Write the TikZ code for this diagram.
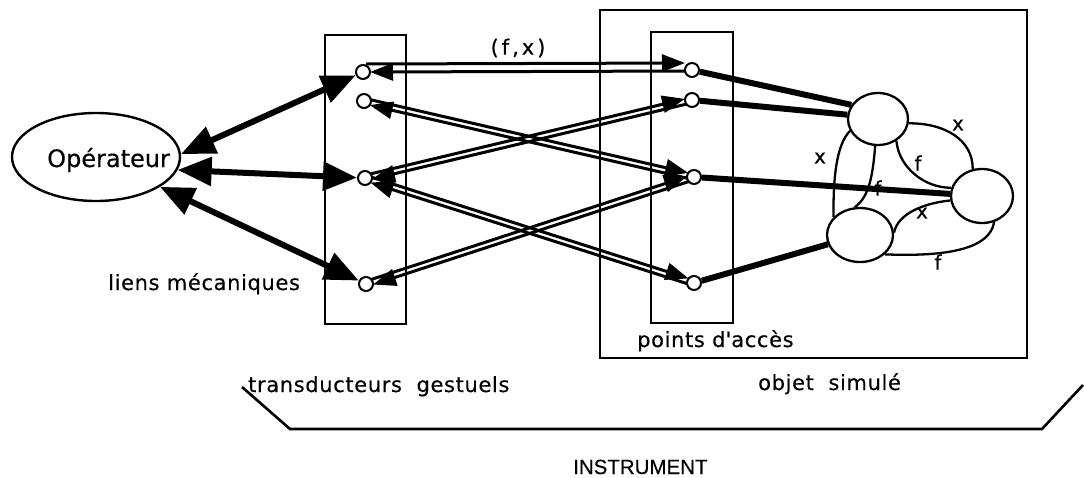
\documentclass[tikz,border=0pt]{standalone}
\usepackage{fontspec}
\setmainfont{DejaVu Sans}[FakeBold=0.3]
\newfontfamily\lblfont{DejaVu Sans}[LetterSpace=3,FakeBold=0.3]
\newfontfamily\helv{Liberation Sans}[FakeBold=0.3]
\usetikzlibrary{arrows.meta,shapes.geometric,calc,backgrounds}

\tikzset{
 accpt/.style={circle,draw,line width=2pt,fill=white,minimum size=14pt,inner sep=0pt},
 mass/.style={ellipse,draw,line width=2.3pt,fill=white,inner sep=0pt},
 frame/.style={draw,line width=2.6pt},
 mech/.style={line width=6pt,{Triangle[length=34pt,width=28pt]}-{Triangle[length=34pt,width=28pt]}},
 sig/.style={line width=3pt,-{Triangle[length=23pt,width=17pt]}},
 model/.style={line width=6pt},
 lnk/.style={line width=2.3pt},
 lbl/.style={inner sep=0pt,font=\lblfont\fontsize{21}{25}\selectfont},
 small/.style={inner sep=0pt,font=\fontsize{20}{24}\selectfont},
}

\newcommand\pairlink[2]{%
 \draw[sig,shorten >=6.5pt] ($(#1)!2.7pt!90:(#2)$) -- ($(#2)!2.7pt!-90:(#1)$);
 \draw[sig,shorten >=6.5pt] ($(#2)!2.7pt!90:(#1)$) -- ($(#1)!2.7pt!-90:(#2)$);
}

\begin{document}
\begin{tikzpicture}[x=1pt,y=-1pt]
\useasboundingbox (0,0) rectangle (1084,477);

% frames
\draw[frame] (325,35) rectangle (406,324);
\draw[frame] (600,10) rectangle (1027,358);
\draw[frame] (651,32) rectangle (733,323);
\draw[frame] (242,387) -- (290,429) -- (1042,429) -- (1083,385);

% operator
\node[mass, minimum width=168pt, minimum height=88pt, line width=2.4pt] (op) at (96,157) {};
\node[inner sep=0pt, anchor=base west, font=\fontsize{24}{28}\selectfont] (opl) at (47,167) {Opérateur};

% transducer points
\node[accpt] (t1) at (363,72) {};
\node[accpt] (t2) at (364,101) {};
\node[accpt] (t3) at (365,178) {};
\node[accpt] (t4) at (366,284) {};
% access points
\node[accpt] (a1) at (692,70) {};
\node[accpt] (a2) at (692,100) {};
\node[accpt] (a3) at (694,177) {};
\node[accpt] (a4) at (694,283) {};
% masses
\node[mass, minimum width=60pt, minimum height=52pt] (m1) at (878,119) {};
\node[mass, minimum width=62pt, minimum height=54pt] (m2) at (982,196) {};
\node[mass, minimum width=66pt, minimum height=54pt] (m3) at (860,235) {};

\begin{scope}[on background layer]
\fill[white] (0,0) rectangle (1084,477);
% mechanical links
\draw[mech] (op.2) -- (t1);
\draw[mech] (op.-9) -- (t3);
\draw[mech] (op.-25) -- (t4);
% signal links
\draw[sig] ($(t1)+(3,-8)$) -- ($(a1)+(-7,-7)$);
\draw[sig] ($(a1)+(0,1)$) -- ($(t1)+(7,0)$);
\pairlink{t2}{a3}
\pairlink{t3}{a2}
\pairlink{t3}{a4}
\pairlink{t4}{a3}
% model links
\draw[model] (a1) -- (m1.152);
\draw[model] (a2) -- (m1.172);
\draw[model] (a3) -- (m2);
\draw[model] (a4) -- (m3);
% interactions
\draw[lnk] (m1.-8) .. controls (945,123) and (973,140) .. (m2.109);
\draw[lnk] (m1.-50) .. controls (899,168) and (925,188) .. (m2.165);
\draw[lnk] (m1.203) .. controls (836,145) and (833,180) .. (m3.146);
\draw[lnk] (m1.-96) .. controls (873,172) and (870,197) .. (m3.101);
\draw[lnk] (m2.188) .. controls (925,203) and (898,213) .. (m3.4);
\draw[lnk] (m2.-65) .. controls (990,248) and (950,257) .. (m3.-38);
\end{scope}

% labels
\node[lbl] (fx) at (518,48) {(\kern3pt f\kern3pt,\kern3pt x\kern3pt)};
\node[lbl, anchor=base west] (lm) at (108,290) {liens mécaniques};
\node[lbl, anchor=base west] (pa) at (637,347) {points d\textquotesingle accès};
\node[lbl, anchor=base west] (tg) at (248,392) {transducteurs\ \ gestuels};
\node[lbl, anchor=base west] (os) at (758,390) {objet\ \ simulé};
\node[inner sep=0pt, anchor=base west, font=\helv\fontsize{20.5}{24}\selectfont] (ins) at (573,474) {INSTRUMENT};

\node[small] (x1) at (958,125) {x};
\node[small] (f1) at (918,163) {f};
\node[small] (x2) at (820,158) {x};
\node[small] (f2) at (878,188) {f};
\node[small] (x3) at (922,213) {x};
\node[small] (f3) at (938,262) {f};
\end{tikzpicture}
\end{document}
